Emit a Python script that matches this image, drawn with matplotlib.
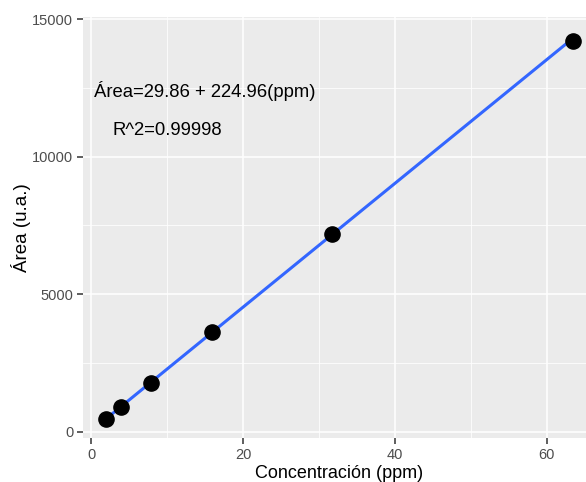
import numpy as np
import matplotlib.pyplot as plt

plt.rcParams.update({
    "font.family": ["Liberation Sans", "DejaVu Sans"],
})

# Calibration data
conc = [1.98, 3.96, 7.93, 15.86, 31.72, 63.44]
area = [465, 908, 1785, 3622, 7180, 14220]
intercept = 29.86
slope = 224.96
eq_label = "Área=29.86 + 224.96(ppm)"
r2_label = "R^2=0.99998"

fig = plt.figure(figsize=(5.86, 4.82), dpi=100)
ax = fig.add_axes([83 / 586, 44 / 482, (596 - 83) / 586, (438 - 17) / 482])

ax.set_facecolor("#EBEBEB")
for s in ax.spines.values():
    s.set_visible(False)

ax.set_xlim(-1.09, 66.5)
ax.set_ylim(-230, 15080)
ax.set_xticks([0, 20, 40, 60])
ax.set_xticks([10, 30, 50], minor=True)
ax.set_yticks([0, 5000, 10000, 15000])
ax.set_yticks([2500, 7500, 12500], minor=True)
ax.grid(True, which="major", color="white", lw=1.1)
ax.grid(True, which="minor", color="white", lw=0.55)
ax.set_axisbelow(True)
ax.tick_params(which="major", length=4, width=1.1, color="#333333",
               labelcolor="#4D4D4D", labelsize=10.5, pad=3)
ax.tick_params(which="minor", length=0)

# fitted line
xs = np.array([min(conc), max(conc)])
ax.plot(xs, intercept + slope * xs, color="#3366FF", lw=2.2, zorder=2)
ax.scatter(conc, area, s=120, color="black", zorder=3)

ax.text(15, 12400, eq_label, ha="center", va="center", fontsize=13.3)
ax.text(10, 10970, r2_label, ha="center", va="center", fontsize=13.3)

ax.set_xlabel("Concentración (ppm)", fontsize=13, labelpad=2)
ax.set_ylabel("Área (u.a.)", fontsize=13.5, labelpad=1)

fig.savefig("out.png", dpi=100)
